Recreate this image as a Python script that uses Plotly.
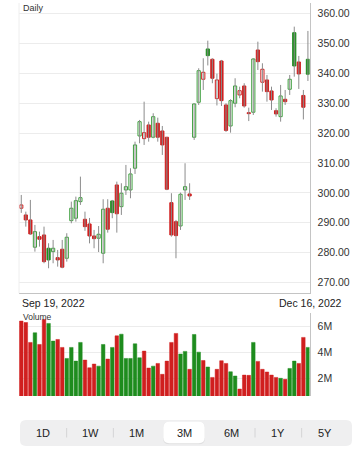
import pandas as pd
import plotly.graph_objects as go

# ---------------- data ----------------
dates = [d.strftime("%Y-%m-%d") for d in pd.bdate_range("2022-09-19", "2022-12-16")
         if d.strftime("%Y-%m-%d") != "2022-11-24"]

prev_close = 297.5

opens = [294.85, 292.61, 290.94, 281.81, 285.35, 285.92, 281.47, 280.33, 278.33, 281.14,
         278.12, 290.70, 291.51, 297.06, 291.17, 289.60, 285.58, 284.82, 279.80, 294.85,
         297.29, 302.64, 295.38, 300.97, 300.97, 308.23, 319.03, 318.13, 322.71, 318.60,
         323.28, 320.70, 318.60, 296.72, 290.37, 288.93, 300.97, 299.63, 318.60, 330.30,
         337.99, 348.13, 344.68, 331.51, 344.11, 329.40, 322.37, 329.97, 332.74, 335.75,
         326.82, 326.96, 347.79, 336.99, 337.76, 334.08, 327.49, 325.48, 331.30, 334.65,
         353.58, 343.78, 332.58, 344.68]
highs = [299.30, 293.71, 297.63, 289.27, 287.02, 288.70, 283.14, 284.25, 280.90, 284.25,
         286.49, 297.06, 298.73, 305.42, 293.71, 291.60, 287.59, 288.90, 297.86, 297.86,
         297.63, 303.75, 303.21, 309.33, 308.23, 317.12, 324.38, 330.50, 323.81, 326.62,
         325.15, 322.37, 318.70, 299.87, 290.94, 300.07, 309.90, 303.21, 329.97, 341.67,
         345.02, 350.90, 345.02, 339.87, 344.45, 329.97, 331.30, 338.33, 335.52, 336.66,
         328.50, 345.02, 350.57, 343.34, 339.43, 335.52, 328.29, 336.09, 334.41, 339.43,
         355.59, 345.79, 334.41, 354.15]
lows = [293.30, 288.70, 285.92, 280.33, 282.01, 276.45, 274.78, 276.45, 275.32, 274.78,
        276.99, 289.83, 290.37, 295.95, 287.30, 283.10, 281.47, 280.20, 276.45, 286.69,
        291.51, 286.69, 292.61, 299.30, 298.19, 306.32, 316.59, 316.02, 317.12, 318.26,
        317.12, 312.68, 300.90, 285.35, 278.12, 287.59, 297.63, 297.63, 317.69, 329.40,
        334.41, 342.61, 336.66, 329.23, 329.06, 320.37, 320.13, 328.63, 331.64, 328.49,
        324.00, 326.05, 341.10, 333.85, 330.50, 327.73, 325.48, 323.81, 329.40, 332.74,
        338.86, 334.75, 324.55, 337.42]
closes = [295.95, 290.94, 286.25, 287.02, 284.48, 276.99, 277.56, 281.47, 277.56, 275.12,
          285.15, 294.85, 297.39, 298.39, 288.70, 285.58, 284.68, 286.15, 294.52, 287.83,
          293.38, 293.00, 299.87, 302.07, 306.32, 316.02, 323.81, 320.13, 318.60, 325.48,
          318.60, 316.02, 301.20, 285.92, 285.69, 299.53, 302.07, 298.96, 329.73, 340.87,
          340.33, 345.89, 338.33, 337.76, 330.84, 320.87, 330.84, 335.75, 334.18, 329.06,
          326.49, 344.78, 343.88, 341.34, 333.85, 331.07, 326.39, 332.41, 330.50, 337.99,
          342.44, 339.77, 328.63, 339.67]
volumes = [6.44, 6.33, 4.78, 5.53, 4.62, 6.57, 6.26, 4.88, 5.01, 4.39,
           3.53, 4.39, 3.32, 4.78, 3.40, 2.80, 3.09, 2.93, 4.62, 3.48,
           4.39, 5.29, 5.42, 3.53, 3.53, 4.67, 3.58, 4.10, 2.78, 2.93,
           3.14, 2.29, 3.32, 4.78, 5.48, 3.87, 4.08, 2.68, 5.40, 4.02,
           3.37, 2.86, 2.05, 2.68, 3.35, 3.14, 2.49, 2.16, 1.14, 2.23,
           2.21, 4.78, 3.30, 2.68, 2.47, 2.23, 2.05, 1.98, 1.90, 2.75,
           3.32, 3.14, 5.17, 4.39]
volumes = [v * 1e6 for v in volumes]

price_ticks = [270, 280, 290, 300, 310, 320, 330, 340, 350, 360]
vol_ticks = [2e6, 4e6, 6e6]
vol_tick_text = ["2M", "4M", "6M"]
ranges = ["1D", "1W", "1M", "3M", "6M", "1Y", "5Y"]
selected_range = "3M"

# ---------------- styling ----------------
W, H = 358, 450
GREEN = "#1e8c1e"
HOLLOW_GREEN = "#3c9e3c"
RED = "#d01f1f"
FONT = "Liberation Sans, Arial, sans-serif"

prevs = [prev_close] + closes[:-1]
colors = [GREEN if c >= p else RED for c, p in zip(closes, prevs)]
hollow = [c > o for c, o in zip(closes, opens)]
fills = [("white" if h else col) for h, col in zip(hollow, colors)]
outlines = [(HOLLOW_GREEN if (h and col == GREEN) else col) for h, col in zip(hollow, colors)]
bases = [min(o, c) for o, c in zip(opens, closes)]
heights = [max(abs(c - o), 0.25) for o, c in zip(opens, closes)]

wx, wy = [], []
for d, lo, hi in zip(dates, lows, highs):
    wx += [d, d, None]
    wy += [lo, hi, None]

def px(x):
    return x / W

def py(y):
    return 1 - y / H

fig = go.Figure()
fig.add_trace(go.Scatter(x=wx, y=wy, mode="lines", line=dict(color="#8c8c8c", width=1),
                         hoverinfo="skip", xaxis="x", yaxis="y"))
fig.add_trace(go.Bar(x=dates, y=heights, base=bases, width=0.7,
                     marker=dict(color=fills, line=dict(color=outlines, width=1)),
                     xaxis="x", yaxis="y"))
fig.add_trace(go.Bar(x=dates, y=volumes, width=0.78,
                     marker=dict(color=colors, line=dict(color=colors, width=0.5)),
                     xaxis="x2", yaxis="y2"))

xdom = [px(19), px(309.5)]
xr = [-0.5, len(dates) - 1 + 0.35]
tickfont = dict(family=FONT, size=10.5, color="#333")

fig.update_layout(
    width=W, height=H, margin=dict(l=0, r=0, t=0, b=0),
    paper_bgcolor="white", plot_bgcolor="white", showlegend=False, barmode="overlay",
    xaxis=dict(domain=xdom, type="category", range=xr, showgrid=False, zeroline=False,
               showticklabels=False, ticks="", showline=True, linecolor="#c4c4c4",
               linewidth=1, anchor="y"),
    yaxis=dict(domain=[py(293.3), py(3)], range=[266.4, 363.5], side="right", anchor="x",
               tickvals=price_ticks, tickformat=".2f", gridcolor="#ececec", gridwidth=1,
               zeroline=False, showline=True, linecolor="#c4c4c4", linewidth=1,
               ticks="", ticklabelstandoff=5, tickfont=tickfont),
    xaxis2=dict(domain=xdom, type="category", range=xr, matches="x", showgrid=False,
                zeroline=False, showticklabels=False, ticks="", showline=False, anchor="y2"),
    yaxis2=dict(domain=[py(396), py(313.3)], range=[0.6e6, 7.05e6], side="right", anchor="x2",
                tickvals=vol_ticks, ticktext=vol_tick_text, gridcolor="#ececec",
                zeroline=False, showline=True, linecolor="#c4c4c4", linewidth=1,
                ticks="", ticklabelstandoff=5, tickfont=tickfont),
)

def fmt_date(s):
    return pd.Timestamp(s).strftime("%b %d, %Y").replace(" 0", " ")

ann = [
    dict(text="Daily", x=px(21), y=py(7.5), xanchor="left", yanchor="middle",
         font=dict(family=FONT, size=9, color="#333")),
    dict(text="Volume", x=px(21), y=py(316.5), xanchor="left", yanchor="middle",
         font=dict(family=FONT, size=8.5, color="#333")),
    dict(text=fmt_date(dates[0]), x=px(19.5), y=py(302.5), xanchor="left", yanchor="middle",
         font=dict(family=FONT, size=10.5, color="#222")),
    dict(text=fmt_date(dates[-1]), x=px(310), y=py(302.5), xanchor="center", yanchor="middle",
         font=dict(family=FONT, size=10.5, color="#222")),
]

def rrect(x0, y0, x1, y1, r):
    pts = [("M", x0 + r, y0), ("L", x1 - r, y0), ("Q", x1, y0, x1, y0 + r),
           ("L", x1, y1 - r), ("Q", x1, y1, x1 - r, y1), ("L", x0 + r, y1),
           ("Q", x0, y1, x0, y1 - r), ("L", x0, y0 + r), ("Q", x0, y0, x0 + r, y0)]
    out = []
    for p in pts:
        cmd = p[0]
        coords = p[1:]
        seg = cmd + " " + " ".join(
            f"{px(coords[i]):.5f},{py(coords[i + 1]):.5f}" for i in range(0, len(coords), 2))
        out.append(seg)
    return " ".join(out) + " Z"

shapes = [
    dict(type="line", xref="paper", yref="paper", x0=px(19), x1=px(19), y0=py(3), y1=py(293.3),
         line=dict(color="#eeeeee", width=1)),
    dict(type="path", xref="paper", yref="paper", path=rrect(20, 420, 352, 446, 6),
         fillcolor="#efeff0", line=dict(width=0)),
]

centers = [43.3, 90, 136.7, 184, 231.7, 278.3, 325]
sel = ranges.index(selected_range)
sx = centers[sel]
shapes.append(dict(type="path", xref="paper", yref="paper",
                   path=rrect(sx - 21, 422, sx + 21, 444.2, 6),
                   fillcolor="rgba(0,0,0,0.06)", line=dict(width=0)))
shapes.append(dict(type="path", xref="paper", yref="paper",
                   path=rrect(sx - 20.7, 421.7, sx + 20.7, 443.3, 6),
                   fillcolor="white", line=dict(width=0)))
for i in range(len(ranges) - 1):
    if i == sel or i + 1 == sel:
        continue
    mx = (centers[i] + centers[i + 1]) / 2
    shapes.append(dict(type="line", xref="paper", yref="paper", x0=px(mx), x1=px(mx),
                       y0=py(428), y1=py(437.5), line=dict(color="#d4d4d6", width=1)))

for lab, cx in zip(ranges, centers):
    ann.append(dict(text=lab, x=px(cx), y=py(433), xanchor="center", yanchor="middle",
                    font=dict(family=FONT, size=11, color="#222")))

for a in ann:
    a.update(xref="paper", yref="paper", showarrow=False)

fig.update_layout(annotations=ann, shapes=shapes)
fig.write_html("out.html", config={"displayModeBar": False},
               post_script="document.body.style.margin='0';")
